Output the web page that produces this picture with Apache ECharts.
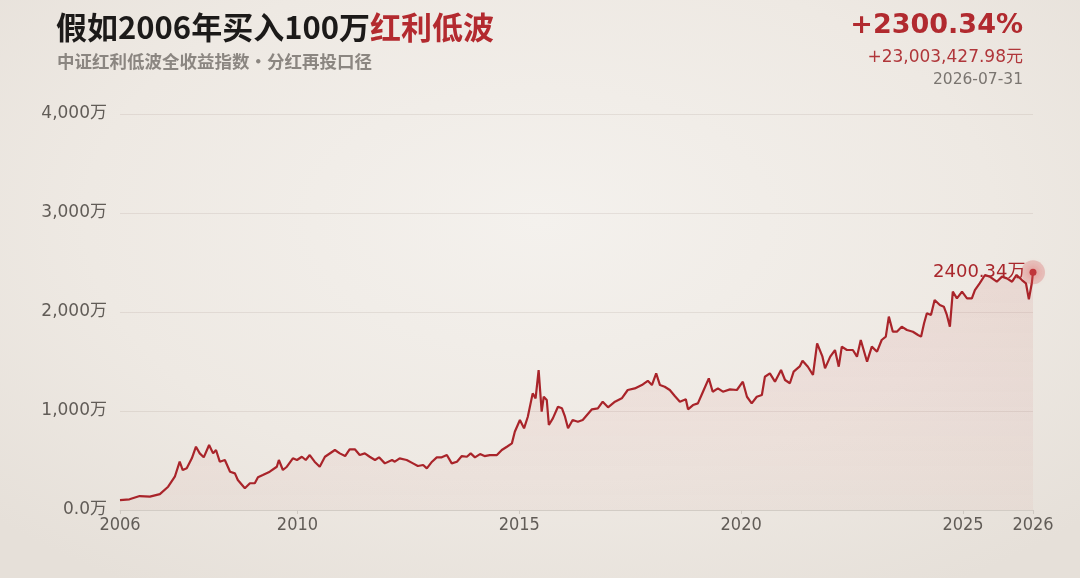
<!DOCTYPE html>
<html>
<head>
<meta charset="utf-8">
<script src="https://cdn.jsdelivr.net/npm/echarts@6/dist/echarts.min.js"></script>
<style>
html,body{margin:0;padding:0;width:1080px;height:578px;overflow:hidden;
background: radial-gradient(ellipse 70% 75% at 50% 38%, #f4f1ed 0%, #eee9e3 60%, #e6e0d9 100%);}
#c{width:1080px;height:578px;}
</style>
</head>
<body>
<div id="c"></div>
<script>
// ---- data (万元) ----
const dates = [
'2006-01-01','2006-03-20','2006-06-12','2006-09-04','2006-11-25','2007-02-01','2007-03-28','2007-05-07','2007-06-01','2007-07-04',
'2007-08-15','2007-09-18','2007-10-19','2007-11-21','2008-01-04','2008-02-06','2008-03-01','2008-04-01','2008-05-13','2008-06-25',
'2008-08-04','2008-08-28','2008-10-25','2008-12-06','2009-01-15','2009-02-10','2009-03-22','2009-05-18','2009-07-15','2009-08-01',
'2009-09-03','2009-10-06','2009-11-24','2009-12-28','2010-02-06','2010-03-10','2010-04-12','2010-05-22','2010-07-03','2010-08-15',
'2010-11-05','2010-12-15','2011-01-28','2011-03-06','2011-04-18','2011-05-28','2011-07-09','2011-08-18','2011-10-01','2011-11-03',
'2011-12-21','2012-02-18','2012-03-12','2012-04-21','2012-06-18','2012-08-09','2012-09-18','2012-11-01','2012-12-01','2013-01-13',
'2013-02-21','2013-04-03','2013-05-15','2013-06-24','2013-08-06','2013-09-15','2013-10-27','2013-11-27','2014-01-01','2014-02-12',
'2014-03-21','2014-05-03','2014-07-01','2014-08-10','2014-09-21','2014-11-01','2014-11-25','2015-01-06','2015-02-09','2015-03-12',
'2015-04-21','2015-05-15','2015-06-09','2015-07-04','2015-07-21','2015-08-15','2015-09-01','2015-10-04','2015-11-15','2015-12-18',
'2016-01-12','2016-02-06','2016-03-15','2016-04-27','2016-06-06','2016-08-21','2016-10-09','2016-11-18','2017-01-01','2017-02-27',
'2017-04-24','2017-06-12','2017-08-09','2017-10-06','2017-11-24','2017-12-28','2018-02-01','2018-03-04','2018-04-12','2018-05-24',
'2018-07-04','2018-08-15','2018-10-03','2018-10-21','2018-12-01','2019-01-10','2019-02-21','2019-04-10','2019-05-12','2019-06-24',
'2019-08-04','2019-10-01','2019-11-27','2020-01-15','2020-02-18','2020-03-28','2020-05-09','2020-06-20','2020-07-15','2020-08-25',
'2020-10-06','2020-11-25','2020-12-28','2021-02-06','2021-03-09','2021-04-28','2021-05-21','2021-07-04','2021-08-15','2021-09-18',
'2021-11-01','2021-11-22','2022-01-04','2022-02-12','2022-03-15','2022-04-09','2022-05-21','2022-07-09','2022-08-12','2022-09-12',
'2022-11-03','2022-12-12','2023-01-24','2023-03-03','2023-04-06','2023-05-01','2023-06-03','2023-07-06','2023-08-15','2023-09-27',
'2023-11-15','2023-12-27','2024-01-21','2024-02-15','2024-03-09','2024-04-12','2024-05-12','2024-06-24','2024-07-27','2024-08-21',
'2024-09-15','2024-10-09','2024-11-12','2024-12-24','2025-02-03','2025-03-15','2025-04-09','2025-05-18','2025-07-01','2025-08-09',
'2025-10-06','2025-11-18','2025-12-28','2026-02-09','2026-03-18','2026-05-01','2026-06-03','2026-06-27','2026-07-21','2026-07-31'
];
const values = [
100,108,141,135,161,235,336,488,404,421,
522,639,572,532,656,572,606,488,505,387,
370,303,219,270,270,330,353,387,437,505,
404,437,522,505,538,505,555,488,437,538,
606,572,545,613,613,555,572,538,505,532,
471,505,488,522,505,471,444,455,421,488,
532,532,555,471,488,545,538,572,532,565,
545,555,555,606,639,673,791,909,825,942,
1178,1128,1414,993,1144,1111,859,926,1043,1027,
942,825,909,892,909,1017,1027,1094,1037,1094,
1128,1212,1228,1262,1305,1262,1380,1262,1245,1212,
1151,1094,1118,1017,1060,1077,1195,1330,1195,1228,
1195,1218,1212,1296,1144,1077,1144,1162,1346,1380,
1296,1414,1313,1280,1397,1450,1508,1447,1364,1684,
1549,1431,1549,1616,1448,1650,1616,1616,1549,1717,
1498,1650,1599,1717,1751,1953,1801,1801,1852,1818,
1801,1768,1751,1886,1987,1970,2121,2071,2054,1970,
1852,2205,2138,2205,2138,2138,2222,2290,2374,2357,
2306,2357,2340,2306,2374,2323,2290,2128,2290,2400.34
];
const xTickDates = ['2006-01-01','2010-01-01','2015-01-01','2020-01-01','2025-01-01','2026-07-31'];
const xTickLabels = ['2006','2010','2015','2020','2025','2026'];
const yTicks = [0,1000,2000,3000,4000];
const titleMain = '假如2006年买入100万';
const titleRed = '红利低波';
const subtitle = '中证红利低波全收益指数·分红再投口径';
const returnPct = '+2300.34%';
const returnAmt = '+23,003,427.98元';
const endDate = '2026-07-31';
const endLabel = '2400.34万';

// date string -> fractional year (so a value axis can place it)
function yearFrac(s){
  const p = s.split('-').map(Number);
  const y = p[0];
  const start = Date.UTC(y,0,1), end = Date.UTC(y+1,0,1);
  return y + (Date.UTC(y,p[1]-1,p[2]) - start)/(end-start);
}

const chart = echarts.init(document.getElementById('c'), null, {renderer:'canvas'});
const tickPos = xTickDates.map(yearFrac);
function labelFor(v){
  for (let i=0;i<tickPos.length;i++) if (Math.abs(tickPos[i]-v) < 1e-6) return xTickLabels[i];
  return '';
}

const CJK = '"Noto Sans CJK SC", "Noto Sans", sans-serif';
const NUM = '"DejaVu Sans", "Noto Sans CJK SC", sans-serif';
const lastX = yearFrac(dates[dates.length-1]);
const lastY = values[values.length-1];

const option = {
  backgroundColor: 'transparent',
  animation: false,
  grid: {left: 120, right: 47, top: 114, bottom: 68, containLabel: false},
  xAxis: {
    type: 'value',
    min: tickPos[0],
    max: tickPos[tickPos.length-1],
    axisLine: {show: true, onZero: false, lineStyle: {color: '#d2ccc5', width: 1}},
    axisTick: {show: true, customValues: tickPos, length: 4, lineStyle: {color: '#cfc9c2'}},
    splitLine: {show: false},
    axisLabel: {
      customValues: tickPos,
      formatter: v => labelFor(v),
      color: '#615c57', fontSize: 18, margin: 6,
      fontFamily: '"DejaVu Sans Condensed", "DejaVu Sans", sans-serif'
    }
  },
  yAxis: {
    type: 'value', min: yTicks[0], max: yTicks[yTicks.length-1], interval: 1000,
    axisLine: {show: false}, axisTick: {show: false},
    splitLine: {show: true, lineStyle: {color: 'rgba(120,100,90,0.12)', width: 1}},
    axisLabel: {
      formatter: v => v === 0 ? '0.0万' : v.toLocaleString('en-US') + '万',
      color: '#615c57', fontSize: 17, margin: 13, fontFamily: NUM
    }
  },
  graphic: [
    {type:'text', left: 56, top: 12, style:{
      text: '{a|' + titleMain + '}{b|' + titleRed + '}',
      rich: {
        a: {fontSize: 31, fontWeight: 'bold', fill: '#1c1a19', fontFamily: CJK},
        b: {fontSize: 31, fontWeight: 'bold', fill: '#b32a2f', fontFamily: CJK}
      }
    }},
    {type:'text', left: 57, top: 53, style:{
      text: subtitle, fontSize: 17.5, fontWeight: 'bold', fill: '#8b8681', fontFamily: CJK
    }},
    {type:'text', right: 57, top: 12, style:{
      text: returnPct, fontSize: 27, fontWeight: 'bold', fill: '#b12a2f', fontFamily: NUM
    }},
    {type:'text', right: 57, top: 49, style:{
      text: returnAmt, fontSize: 17, fill: '#b0363a', fontFamily: NUM
    }},
    {type:'text', right: 57, top: 72, style:{
      text: endDate, fontSize: 15.5, fill: '#7a7570', fontFamily: NUM
    }}
  ],
  series: [{
    type: 'line',
    data: dates.map((d,i)=>[yearFrac(d), values[i]]),
    showSymbol: false,
    smooth: false,
    lineStyle: {color: '#a9242a', width: 2.2},
    areaStyle: {color: new echarts.graphic.LinearGradient(0,0,0,1,[
      {offset:0, color:'rgba(200,80,80,0.15)'},
      {offset:1, color:'rgba(200,80,80,0.06)'}
    ])},
    markPoint: {
      silent: true,
      data: [
        {coord: [lastX, lastY], symbol:'circle', symbolSize: 24,
         itemStyle:{color: 'rgba(215,90,90,0.28)'}, label:{show:false}},
        {coord: [lastX, lastY], symbol:'circle', symbolSize: 7,
         itemStyle:{color:'#c0353a', shadowBlur: 10, shadowColor:'rgba(220,70,70,0.9)'},
         label:{show:true, position:'left', distance: 4, formatter: endLabel,
           color:'#a9272c', fontSize: 18, fontFamily: NUM}}
      ]
    }
  }]
};
chart.setOption(option);
</script>
</body>
</html>
